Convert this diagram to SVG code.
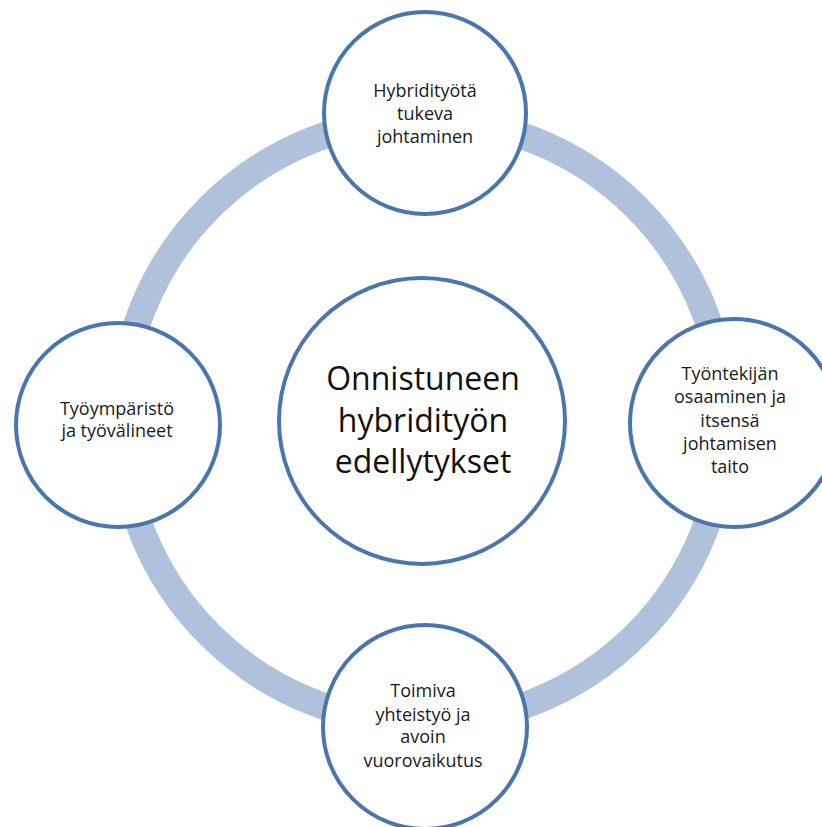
<svg xmlns="http://www.w3.org/2000/svg" width="822" height="827" viewBox="0 0 822 827">
<style>
.node{fill:#ffffff;stroke:#4a76ae;stroke-width:4}
.t{font-family:"Open Sans","Liberation Sans",sans-serif;font-size:18px;fill:#1a1a1a;text-anchor:middle}
.big{font-family:"Open Sans","Liberation Sans",sans-serif;font-size:32px;fill:#111111;text-anchor:middle}
</style>
<rect width="822" height="827" fill="#ffffff"/>
<g id="connectors">
<circle cx="423" cy="421" r="302" fill="none" stroke="#b0c1dc" stroke-width="27"/>
</g>
<g id="center">
<circle class="node" cx="422" cy="421" r="143"/>
<text class="big" x="423" y="390">Onnistuneen</text>
<text class="big" x="423" y="432">hybridityön</text>
<text class="big" x="423" y="473">edellytykset</text>
</g>
<g id="top">
<circle class="node" cx="425" cy="113" r="101"/>
<text class="t" x="425" y="97">Hybridityötä</text>
<text class="t" x="425" y="120">tukeva</text>
<text class="t" x="425" y="143">johtaminen</text>
</g>
<g id="right">
<circle class="node" cx="734" cy="423" r="104"/>
<text class="t" x="730" y="380">Työntekijän</text>
<text class="t" x="730" y="403">osaaminen ja</text>
<text class="t" x="730" y="427">itsensä</text>
<text class="t" x="730" y="450">johtamisen</text>
<text class="t" x="730" y="473">taito</text>
</g>
<g id="left">
<circle class="node" cx="118" cy="425" r="102"/>
<text class="t" x="117" y="415">Työympäristö</text>
<text class="t" x="117" y="437">ja työvälineet</text>
</g>
<g id="bottom">
<circle class="node" cx="425" cy="727" r="102"/>
<text class="t" x="423" y="697">Toimiva</text>
<text class="t" x="423" y="721">yhteistyö ja</text>
<text class="t" x="423" y="743">avoin</text>
<text class="t" x="423" y="767">vuorovaikutus</text>
</g>
</svg>
